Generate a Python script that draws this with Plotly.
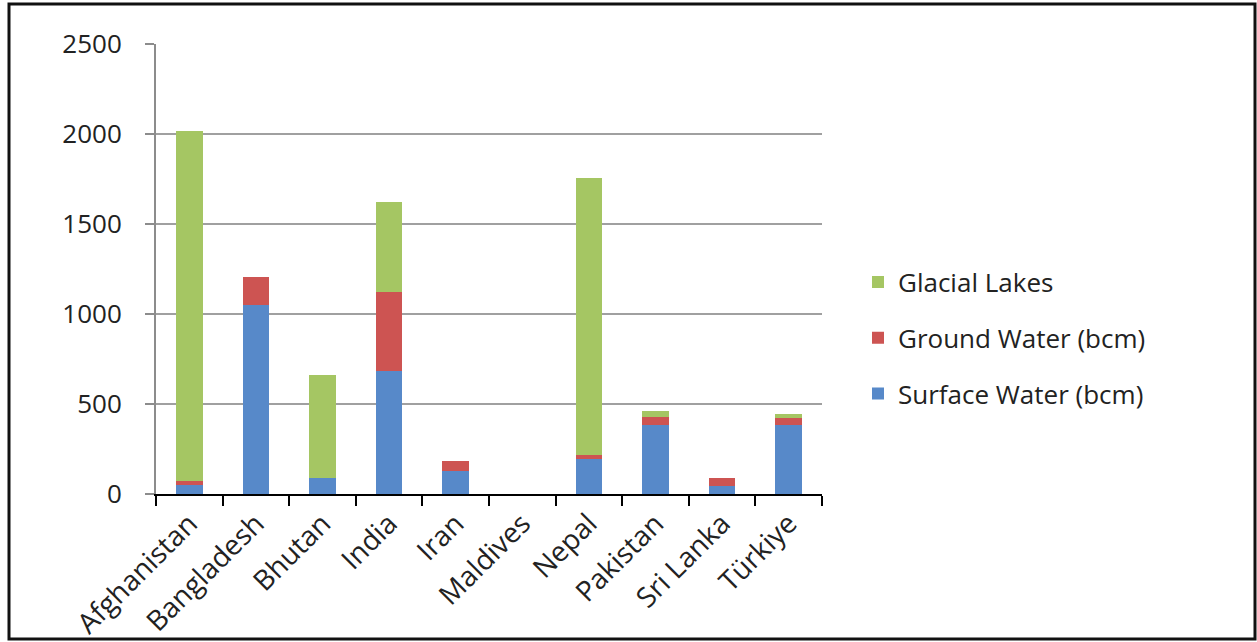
import plotly.graph_objects as go

countries = ["Afghanistan", "Bangladesh", "Bhutan", "India", "Iran", "Maldives",
             "Nepal", "Pakistan", "Sri Lanka", "Türkiye"]
surface_water = [50, 1050, 91, 683, 130, 0, 196, 381, 44, 381]
ground_water = [22, 156, 0, 437, 53, 0, 19, 45, 45, 43]
glacial_lakes = [1945, 0, 570, 500, 0, 0, 1542, 33, 0, 19]
y_ticks = [0, 500, 1000, 1500, 2000, 2500]

blue = "#5789c9"
red = "#cd5452"
green = "#a5c663"
font_family = "Open Sans, Lato, sans-serif"
text_color = "#222222"

fig = go.Figure()
fig.add_trace(go.Bar(x=countries, y=surface_water, name="Surface Water (bcm)",
                     marker=dict(color=blue, line=dict(width=0)),
                     legendgroup="s", legendrank=3))
fig.add_trace(go.Bar(x=countries, y=ground_water, name="Ground Water (bcm)",
                     marker=dict(color=red, line=dict(width=0)),
                     legendgroup="g", legendrank=2))
fig.add_trace(go.Bar(x=countries, y=glacial_lakes, name="Glacial Lakes",
                     marker=dict(color=green, line=dict(width=0)),
                     legendgroup="l", legendrank=1))

W, H = 1257, 642
L, R, T, B = 156, 822, 44, 494

def px_x(p):
    return (p - L) / (R - L)

def px_y(p):
    return (B - p) / (B - T)

fig.update_layout(
    width=W, height=H,
    margin=dict(l=L, r=W - R, t=T, b=H - B, pad=0, autoexpand=False),
    barmode="stack",
    bargap=0.6,
    paper_bgcolor="white",
    plot_bgcolor="white",
    font=dict(family=font_family, color=text_color, size=26),
    showlegend=True,
    legend=dict(
        x=px_x(858), xanchor="left",
        y=px_y(338), yanchor="middle",
        traceorder="grouped",
        tracegroupgap=19,
        font=dict(size=26, family=font_family, color=text_color),
        bgcolor="rgba(0,0,0,0)",
        itemsizing="constant",
    ),
    xaxis=dict(
        type="category",
        automargin=False,
        showline=True, linecolor="#000000", linewidth=2,
        ticks="outside", tickson="boundaries", ticklen=10, tickwidth=2, tickcolor="#000000",
        tickangle=-45,
        tickfont=dict(size=28, family=font_family, color=text_color),
        showgrid=False,
        fixedrange=True,
    ),
    yaxis=dict(
        automargin=False,
        range=[0, 2500],
        tickvals=y_ticks,
        showline=True, linecolor="#8c8c8c", linewidth=2,
        ticks="outside", ticklen=9, tickwidth=2, tickcolor="#8c8c8c",
        showgrid=True, gridcolor="#a0a0a0", gridwidth=2,
        zeroline=False,
        tickfont=dict(size=26, family=font_family, color=text_color),
        ticklabelstandoff=18,
    ),
)

# outer frame around the whole picture
fig.add_shape(type="rect", xref="paper", yref="paper",
              x0=px_x(9), x1=px_x(1255), y0=px_y(639), y1=px_y(4),
              line=dict(color="#111111", width=3), layer="above")

fig.write_html("out.html")
